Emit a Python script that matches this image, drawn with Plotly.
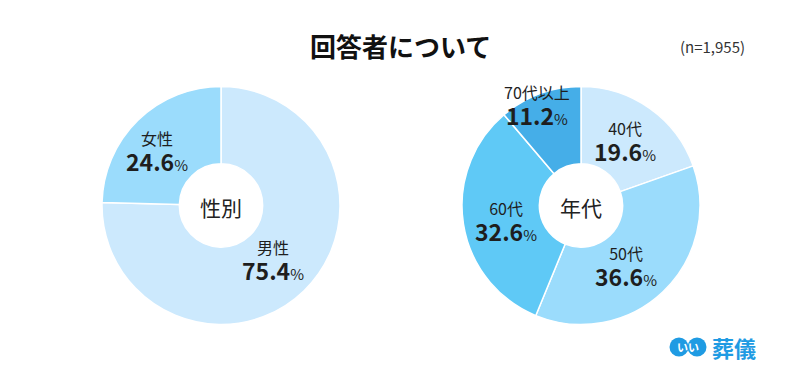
import math
import plotly.graph_objects as go

W, H = 800, 389
FONT = "Noto Sans CJK JP"

# ---- data ----
gender_labels = ["男性", "女性"]
gender_values = [75.4, 24.6]
age_labels = ["40代", "50代", "60代", "70代以上"]
age_values = [19.6, 36.6, 32.6, 11.2]

title_text = "回答者について"
n_text = "(n=1,955)"

# ---- styles ----
gender_colors = ["#cce9fd", "#9bdcfc"]
age_colors = ["#cce9fd", "#9bdcfc", "#5fc9f6", "#45aee8"]
# label placement: distance from centre (px) and angular nudge (deg)
gender_label_r = [75, 84]
gender_label_da = [0.5, -5]
age_label_r = [79, 75, 76, 110]
age_label_da = [-1, 6.5, -2, -3.4]

left_box = (102, 340, 86, 325)   # x0, x1, y0, y1 in px
right_box = (462, 700, 86, 325)


def px(x):
    return x / W


def py(y):
    return 1 - y / H


fig = go.Figure()


def ann(x, y, text, **font):
    fig.add_annotation(x=px(x), y=py(y), xref="paper", yref="paper", text=text,
                       showarrow=False, xanchor="center", yanchor="middle",
                       font=dict(family=FONT, **font))


def add_donut(labels, values, colors, box, hole_text, radii, nudges):
    x0, x1, y0, y1 = box
    fig.add_trace(go.Pie(
        labels=labels, values=values, sort=False, direction="clockwise",
        rotation=0, hole=0.35, textinfo="none", hoverinfo="label+percent",
        marker=dict(colors=colors, line=dict(color="white", width=1.5)),
        domain=dict(x=[px(x0), px(x1)], y=[py(y1), py(y0)]),
        showlegend=False,
    ))
    cx, cy = (x0 + x1) / 2, (y0 + y1) / 2
    ann(cx, cy + 1, hole_text, size=21, color="#222")
    total = sum(values)
    start = 0.0
    for lab, v, r, da in zip(labels, values, radii, nudges):
        mid = (start + v / 2) / total * 2 * math.pi + math.radians(da)
        start += v
        lx = cx + r * math.sin(mid)
        ly = cy - r * math.cos(mid)
        text = (f"<span style='font-size:16px'>{lab}</span><br>"
                f"<span style='font-size:23px;font-weight:600'>{v:.1f}</span>"
                f"<span style='font-size:15px'>%</span>")
        ann(lx, ly + 1.5, text, size=20, color="#1e1e1e")


add_donut(gender_labels, gender_values, gender_colors, left_box, "性別",
          gender_label_r, gender_label_da)
add_donut(age_labels, age_values, age_colors, right_box, "年代",
          age_label_r, age_label_da)

# title and n
ann(400, 45, title_text, size=26, color="#111", weight=700)
ann(712, 47, n_text, size=15, color="#333")

# logo
logo_blue = "#1f9be3"
for ccx in (679, 697):
    fig.add_shape(type="circle", xref="paper", yref="paper",
                  x0=px(ccx - 9.5), x1=px(ccx + 9.5), y0=py(356.5), y1=py(337.5),
                  fillcolor=logo_blue, line=dict(width=0), layer="above")
ann(688, 347, "いい", size=11, color="white", weight=700)
ann(734, 347, "葬儀", size=22, color=logo_blue, weight=700)

fig.update_layout(
    width=W, height=H,
    margin=dict(l=0, r=0, t=0, b=0),
    paper_bgcolor="white", plot_bgcolor="white",
)

fig.write_html("out.html", config={"displayModeBar": False},
               post_script="document.body.style.margin='0';")
